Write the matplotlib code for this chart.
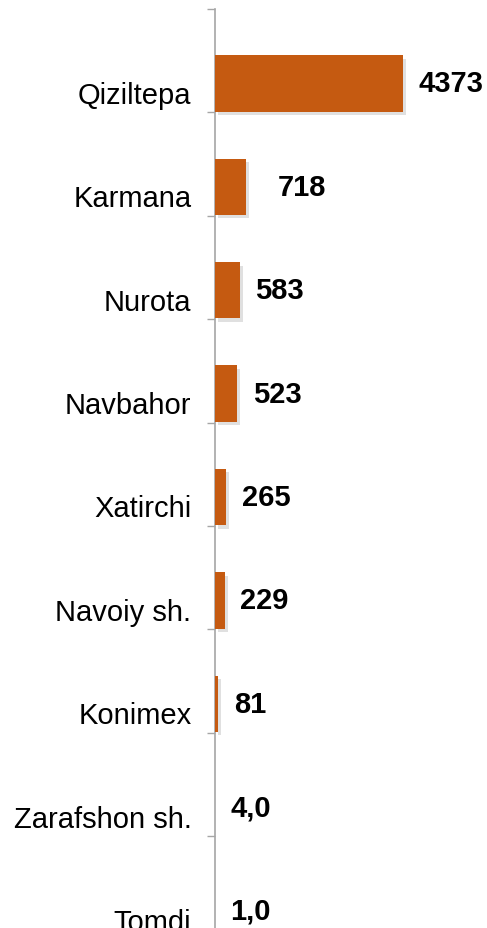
"""
districts.py — horizontal bar chart by district
"""

import matplotlib
matplotlib.use("Agg")
import matplotlib.pyplot as plt
import matplotlib.patheffects as pe
import numpy as np

districts = ["Qiziltepa", "Karmana", "Nurota", "Navbahor", "Xatirchi",
             "Navoiy sh.", "Konimex", "Zarafshon sh.", "Tomdi"]
values = [4373, 718, 583, 523, 265, 229, 81, 4.0, 1.0]
value_labels = ["4373", "718", "583", "523", "265", "229", "81", "4,0", "1,0"]

BAR_COLOR = "#C55A11"
AXIS_COLOR = "#A6A6A6"

plt.rcParams["font.family"] = ["Liberation Sans", "DejaVu Sans"]

W, H = 487, 929
fig = plt.figure(figsize=(W / 100, H / 100), dpi=100)
fig.patch.set_facecolor("white")

# axes: vertical axis at x=215px, bands of ~103.4px starting at y=10px
band_px = 103.4
top_px = 10
bottom_px = top_px + band_px * len(districts)
ax = fig.add_axes([215 / W, 1 - bottom_px / H, (W - 215) / W, (bottom_px - top_px) / H])

n = len(districts)
pos = np.arange(n)
bar_center = pos + 0.72
ax.barh(bar_center, values, height=0.545, color=BAR_COLOR, zorder=3,
        path_effects=[pe.SimplePatchShadow(offset=(2, -2.5), shadow_rgbFace="#9a9a9a", alpha=0.3),
                      pe.Normal()])

ax.set_xlim(0, (W - 215) / 0.04299)
ax.set_ylim(n, 0)

# value labels
nudge = {1: 12}
for i, (v, lab) in enumerate(zip(values, value_labels)):
    ax.annotate(lab, (v, bar_center[i]), xytext=(11 + nudge.get(i, 0), 0),
                textcoords="offset points", ha="left", va="center",
                fontsize=21, fontweight="bold", color="black")

# category boundaries as major ticks, names as minor ticks
ax.set_yticks(np.arange(n + 1))
ax.set_yticklabels([])
ax.set_yticks(pos + 0.8, minor=True)
ax.set_yticklabels(districts, minor=True, fontsize=21)
ax.tick_params(axis="y", which="major", length=6, color=AXIS_COLOR, width=1)
ax.tick_params(axis="y", which="minor", length=0, pad=17)

ax.set_xticks([])
for side in ["top", "right", "bottom"]:
    ax.spines[side].set_visible(False)
ax.spines["left"].set_color(AXIS_COLOR)
ax.spines["left"].set_linewidth(1.2)
ax.set_facecolor("white")

plt.savefig("out.png", dpi=100, facecolor=fig.get_facecolor())
plt.close()
